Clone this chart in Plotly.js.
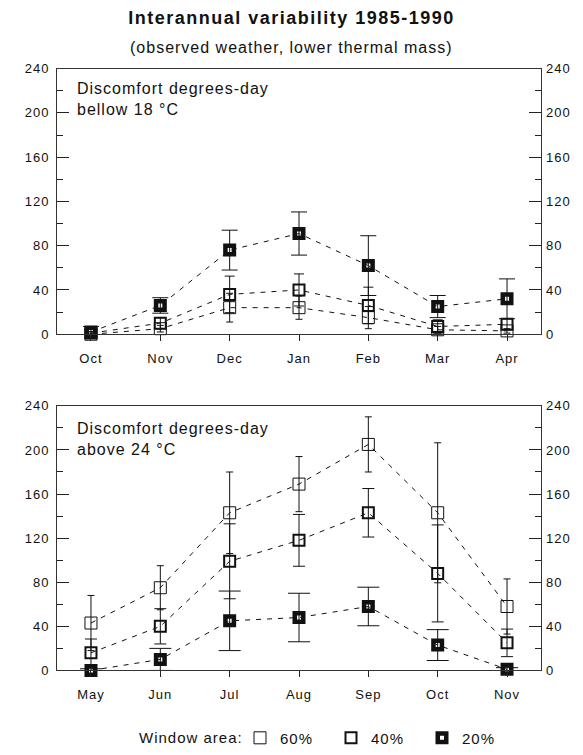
<!DOCTYPE html>
<html>
<head>
<meta charset="utf-8">
<script src="https://cdn.plot.ly/plotly-3.0.1.min.js"></script>
<style>
  html, body { margin: 0; padding: 0; background: #fff; }
  #chart { width: 583px; height: 755px; }
  svg text { letter-spacing: 1px; }
  svg .gtitle { letter-spacing: 1.5px; }
</style>
</head>
<body>
<div id="chart"></div>
<script>
// ---- data ----
const winterMonths = ['Oct', 'Nov', 'Dec', 'Jan', 'Feb', 'Mar', 'Apr'];
const winter60 = [0, 5, 24, 24, 15, 4, 3];
const winter60Err = [1, 3, 13, 10.5, 10, 3, 2];
const winter40 = [1, 10, 36, 40, 26, 7, 9];
const winter40Err = [1.5, 5, 16.5, 14.5, 16.5, 6, 5];
const winter20 = [2, 26, 76, 91, 62, 25, 32];
const winter20Err = [5, 7, 18, 19.5, 27, 10, 18];

const summerMonths = ['May', 'Jun', 'Jul', 'Aug', 'Sep', 'Oct', 'Nov'];
const summer60 = [43, 75, 143, 169, 205, 143, 58];
const summer60Err = [25, 20, 37, 25, 25, 63.5, 25];
const summer40 = [16, 40, 99, 118, 143, 88, 25];
const summer40Err = [12.5, 16, 34, 23.5, 22, 44, 12.5];
const summer20 = [0, 10, 45, 48, 58, 23, 1];
const summer20Err = [1.5, 10, 27, 22, 17.5, 14, 1.5];

const seriesNames = ['60%', '40%', '20%'];
const yTickVals = [0, 40, 80, 120, 160, 200, 240];

// ---- styles ----
const FONT = 'Liberation Sans, Arial, Helvetica, sans-serif';
const INK = '#111';
const markerStyles = [
  {symbol: 'square-open', size: 12, color: INK, line: {width: 1, color: INK}},
  {symbol: 'square-open', size: 11, color: INK, line: {width: 2, color: INK}},
  {symbol: 'square-open', size: 8.5, color: INK, line: {width: 4.5, color: INK}}
];

function series(xs, ys, errs, idx, xa, ya, capW) {
  return {
    type: 'scatter', mode: 'lines+markers',
    x: xs, y: ys, xaxis: xa, yaxis: ya,
    name: seriesNames[idx], showlegend: false, cliponaxis: false,
    line: {color: INK, width: 1, dash: '5px,6px'},
    marker: markerStyles[idx],
    error_y: {type: 'data', array: errs, visible: true, color: INK, thickness: 1, width: capW}
  };
}

// the 20% series sit on the right-hand (overlaying) axes, which share the same 0-240 range
const traces = [
  series(winterMonths, winter60, winter60Err, 0, 'x', 'y', 3.5),
  series(winterMonths, winter40, winter40Err, 1, 'x', 'y', 5),
  series(winterMonths, winter20, winter20Err, 2, 'x', 'y3', 8),
  series(summerMonths, summer60, summer60Err, 0, 'x2', 'y2', 3.5),
  series(summerMonths, summer40, summer40Err, 1, 'x2', 'y2', 6),
  series(summerMonths, summer20, summer20Err, 2, 'x2', 'y4', 11)
];
// legend-only entries (markers only, like the reference key)
seriesNames.forEach((n, i) => {
  traces.push({type: 'scatter', mode: 'markers', x: [null], y: [null], xaxis: 'x2', yaxis: 'y2',
    name: n, showlegend: true, marker: markerStyles[i]});
});

const H = 755, W = 583;
const xDom = [57 / W, 541 / W];
const topDom = [1 - 336 / H, 1 - 69 / H];
const botDom = [1 - 674 / H, 1 - 408 / H];

function xAxis(anchor) {
  return {
    type: 'category', domain: xDom, anchor: anchor, range: [-0.49, 6.49],
    showline: true, mirror: true, linecolor: '#333', linewidth: 1,
    ticks: 'outside', ticklen: 6, tickcolor: '#222', tickwidth: 1,
    showgrid: false, zeroline: false, ticklabelstandoff: 6, fixedrange: true,
    tickfont: {family: FONT, size: 13, color: INK}
  };
}
function yAxis(anchor, dom, side, overlay) {
  const a = {
    domain: dom, anchor: anchor, range: [0, 240], side: side,
    tickmode: 'array', tickvals: yTickVals,
    ticks: 'inside', ticklen: 12, tickcolor: '#222', tickwidth: 1,
    minor: {ticks: 'inside', ticklen: 6, dtick: 20, tick0: 0, tickcolor: '#222', tickwidth: 1},
    showgrid: false, zeroline: false, fixedrange: true, ticklabelstandoff: 4,
    tickfont: {family: FONT, size: 13, color: INK}
  };
  if (overlay) { a.overlaying = overlay; a.showline = false; }
  else { a.showline = true; a.mirror = true; a.linecolor = '#333'; a.linewidth = 1; }
  return a;
}

const layout = {
  width: W, height: H,
  margin: {l: 0, r: 0, t: 0, b: 0, pad: 0},
  paper_bgcolor: '#fff', plot_bgcolor: 'rgba(0,0,0,0)',
  font: {family: FONT, color: INK},
  title: {
    text: '<b>Interannual variability 1985-1990</b>',
    font: {family: FONT, size: 18, color: INK},
    xref: 'paper', x: 0.5, xanchor: 'center',
    yref: 'container', y: 1 - 18 / H, yanchor: 'middle'
  },
  xaxis: xAxis('y'),
  xaxis2: xAxis('y2'),
  yaxis: yAxis('x', topDom, 'left'),
  yaxis2: yAxis('x2', botDom, 'left'),
  yaxis3: yAxis('x', topDom, 'right', 'y'),
  yaxis4: yAxis('x2', botDom, 'right', 'y2'),
  showlegend: true,
  legend: {
    orientation: 'h', x: 240 / W, xanchor: 'left', y: 1 - 742 / H, yanchor: 'middle',
    font: {family: FONT, size: 15, color: INK},
    itemwidth: 30, entrywidth: 46, entrywidthmode: 'pixels', bgcolor: 'rgba(0,0,0,0)'
  },
  annotations: [
    {text: '(observed weather, lower thermal mass)', xref: 'paper', yref: 'paper',
     x: 0.5, xanchor: 'center', y: 1 - 48 / H, yanchor: 'middle', showarrow: false,
     font: {family: FONT, size: 16, color: INK}},
    {text: 'Discomfort degrees-day<br>bellow 18 °C', xref: 'paper', yref: 'paper',
     x: 75 / W, xanchor: 'left', y: 1 - 78 / H, yanchor: 'top', align: 'left', showarrow: false,
     font: {family: FONT, size: 16, color: INK}},
    {text: 'Discomfort degrees-day<br>above 24 °C', xref: 'paper', yref: 'paper',
     x: 75 / W, xanchor: 'left', y: 1 - 420 / H, yanchor: 'top', align: 'left', showarrow: false,
     font: {family: FONT, size: 16, color: INK}},
    {text: 'Window area:', xref: 'paper', yref: 'paper',
     x: 245 / W, xanchor: 'right', y: 1 - 741 / H, yanchor: 'middle', showarrow: false,
     font: {family: FONT, size: 15, color: INK}}
  ]
};

Plotly.newPlot('chart', traces, layout, {staticPlot: true, displayModeBar: false});
</script>
</body>
</html>
